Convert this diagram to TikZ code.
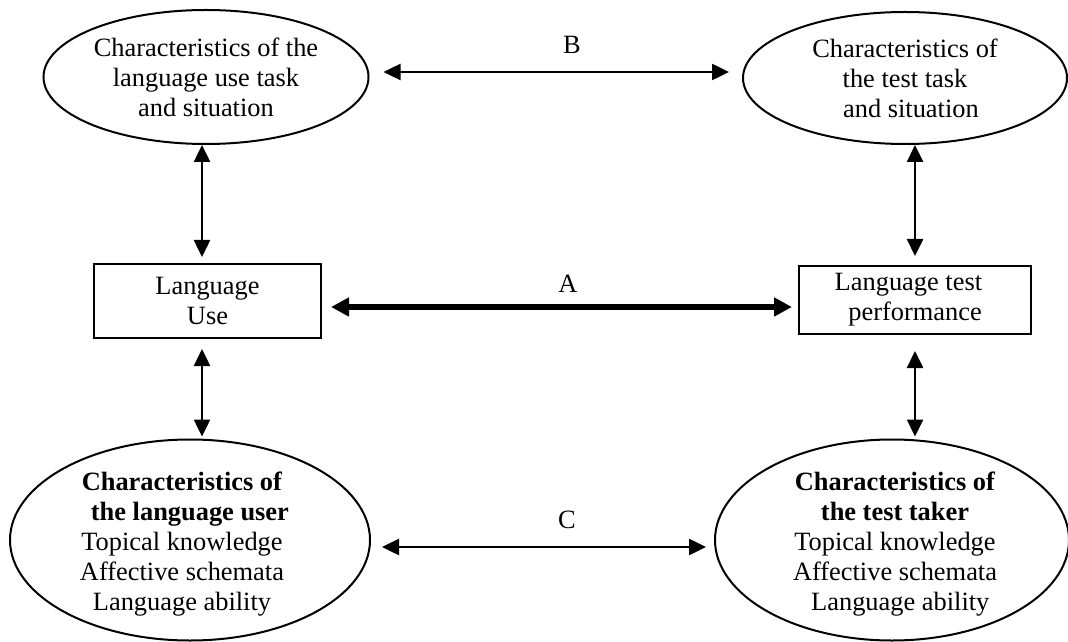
\documentclass[tikz,border=0pt]{standalone}
\usepackage{fontspec}
\setmainfont{Liberation Serif}
\usetikzlibrary{arrows.meta,shapes.geometric}
\begin{document}
\begin{tikzpicture}[x=0.5pt,y=-0.5pt,
  every node/.style={font=\fontsize{13.2pt}{15pt}\selectfont, align=center, inner sep=0pt},
  ell/.style={draw, line width=1pt, ellipse},
  box/.style={draw, line width=1pt, rectangle},
  dbl/.style={line width=1.25pt, {Triangle[length=8.5pt,width=8pt]}-{Triangle[length=8.5pt,width=8pt]}},
  thickdbl/.style={line width=3pt, {Triangle[length=9pt,width=9pt]}-{Triangle[length=9pt,width=9pt]}}]
\useasboundingbox (0,0) rectangle (1068,641);

\node[ell, minimum width=162.5pt, minimum height=67pt] (tl) at (206,77)
  {Characteristics of the\\language use task\\and situation};
\node[ell, minimum width=162pt, minimum height=66pt] (tr) at (905,78)
  {Characteristics of\\the test task\hspace*{0.4em}\\\hspace*{0.45em}and situation};

\node[box, minimum width=113.5pt, minimum height=37pt] (lu) at (207.5,301) {Language\\Use};
\node[box, minimum width=116pt, minimum height=34pt] (lt) at (915,300) {Language test\hspace*{0.5em}\\performance};

\node[ell, minimum width=180pt, minimum height=100.5pt] (bl) at (190,540) {};
\node (blt) at (182,544) {\textbf{Characteristics of}\\\textbf{\hspace*{0.6em}the language user}\\Topical knowledge\\Affective schemata\\Language ability};
\node[ell, minimum width=177pt, minimum height=100.5pt] (br) at (892,540) {};
\node (brt) at (895,544) {\textbf{Characteristics of}\\\textbf{the test taker}\\Topical knowledge\\Affective schemata\\\hspace*{0.4em}Language ability};

\node (la) at (568,284) {A};
\node (lb) at (572,45) {B};
\node (lc) at (567,520) {C};

\draw[dbl, shorten >=3pt] ([xshift=-2pt]tl.south) -- ([xshift=-2.75pt]lu.north);
\draw[dbl, shorten <=5pt, shorten >=1pt] ([xshift=-2.75pt]lu.south) -- ([xshift=6pt]bl.north);
\draw[dbl, shorten >=4.5pt] ([xshift=5pt]tr.south) -- (lt.north);
\draw[dbl, shorten <=8pt, shorten >=1pt] (lt.south) -- ([xshift=11.5pt]br.north);

\draw[dbl, shorten <=7pt, shorten >=6.5pt] ([yshift=2.5pt]tl.east) -- ([yshift=3pt]tr.west);
\draw[thickdbl, shorten <=4.5pt, shorten >=3pt] ([yshift=-3pt]lu.east) -- ([yshift=-3.5pt]lt.west);
\draw[dbl, shorten <=5.5pt, shorten >=4pt] ([yshift=-3.5pt]bl.east) -- ([yshift=-3.5pt]br.west);
\end{tikzpicture}
\end{document}
